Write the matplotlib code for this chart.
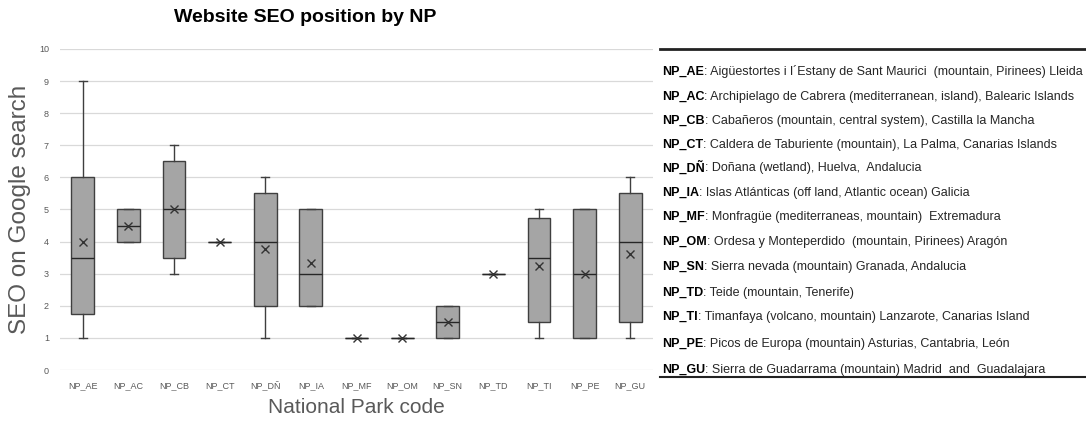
import matplotlib
matplotlib.use("Agg")
import matplotlib.pyplot as plt
from matplotlib.lines import Line2D

plt.rcParams['font.family'] = ['Liberation Sans', 'DejaVu Sans']

codes = ["NP_AE", "NP_AC", "NP_CB", "NP_CT", "NP_DÑ", "NP_IA", "NP_MF",
         "NP_OM", "NP_SN", "NP_TD", "NP_TI", "NP_PE", "NP_GU"]
whis_low = [1, 4, 3, 4, 1, 2, 1, 1, 1, 3, 1, 1, 1]
q1       = [1.75, 4, 3.5, 4, 2, 2, 1, 1, 1, 3, 1.5, 1, 1.5]
median   = [3.5, 4.5, 5, 4, 4, 3, 1, 1, 1.5, 3, 3.5, 3, 4]
q3       = [6, 5, 6.5, 4, 5.5, 5, 1, 1, 2, 3, 4.75, 5, 5.5]
whis_high = [9, 5, 7, 4, 6, 5, 1, 1, 2, 3, 5, 5, 6]
mean     = [4, 4.5, 5, 4, 3.78, 3.33, 1, 1, 1.5, 3, 3.25, 3, 3.6]

descriptions = [
    "Aigüestortes i l´Estany de Sant Maurici  (mountain, Pirinees) Lleida",
    "Archipielago de Cabrera (mediterranean, island), Balearic Islands",
    "Cabañeros (mountain, central system), Castilla la Mancha",
    "Caldera de Taburiente (mountain), La Palma, Canarias Islands",
    "Doñana (wetland), Huelva,  Andalucia",
    "Islas Atlánticas (off land, Atlantic ocean) Galicia",
    "Monfragüe (mediterraneas, mountain)  Extremadura",
    "Ordesa y Monteperdido  (mountain, Pirinees) Aragón",
    "Sierra nevada (mountain) Granada, Andalucia",
    "Teide (mountain, Tenerife)",
    "Timanfaya (volcano, mountain) Lanzarote, Canarias Island",
    "Picos de Europa (mountain) Asturias, Cantabria, León",
    "Sierra de Guadarrama (mountain) Madrid  and  Guadalajara",
]
desc_y_px = [72, 97, 121, 145, 168, 193, 217, 242, 267, 293, 317, 344, 370]

W, H = 1086, 422
fig = plt.figure(figsize=(W / 100, H / 100), dpi=100)
ax = fig.add_axes([60 / W, 1 - 370 / H, (653 - 60) / W, (370 - 49) / H])

stats = []
for i, c in enumerate(codes):
    stats.append(dict(label=c, whislo=whis_low[i], q1=q1[i], med=median[i],
                      q3=q3[i], whishi=whis_high[i], mean=mean[i], fliers=[]))

edge = "#3f3f3f"
ax.bxp(stats, positions=range(len(codes)), widths=0.5, patch_artist=True,
       showmeans=True, showfliers=False,
       boxprops=dict(facecolor="#a5a5a5", edgecolor=edge, linewidth=1.0),
       medianprops=dict(color="#262626", linewidth=1.0),
       whiskerprops=dict(color=edge, linewidth=1.0),
       capprops=dict(color=edge, linewidth=1.0),
       capwidths=0.18,
       meanprops=dict(marker="x", markeredgecolor="#333333", markersize=6,
                      markeredgewidth=1.0))

ax.set_xlim(-0.5, len(codes) - 0.5)
ax.set_ylim(0, 10)
ax.set_yticks(range(0, 11))
ax.grid(axis="y", color="#d9d9d9", linewidth=0.9)
ax.set_axisbelow(True)
for s in ax.spines.values():
    s.set_visible(False)
ax.tick_params(axis="both", length=0, labelsize=6.5, labelcolor="#595959")
ax.tick_params(axis="x", pad=8)
ax.tick_params(axis="y", pad=8)

ax.set_ylabel("SEO on Google search", fontsize=17.5, color="#595959", labelpad=6)
ax.set_xlabel("National Park code", fontsize=15, color="#595959", labelpad=5)
fig.text(305 / W, 1 - 18 / H, "Website SEO position by NP", fontsize=14,
         fontweight="bold", ha="center", va="center", color="black")

# right-hand table of descriptions
fig.add_artist(Line2D([660 / W, 1.0], [1 - 49 / H, 1 - 49 / H],
                      color="#222222", linewidth=2.0))
fig.add_artist(Line2D([660 / W, 1.0], [1 - 377 / H, 1 - 377 / H],
                      color="#222222", linewidth=1.5))
fs = 9.0
for c, d, y in zip(codes, descriptions, desc_y_px):
    t = fig.text(662 / W, 1 - y / H, c, fontsize=fs, fontweight="bold",
                 ha="left", va="center", color="black")
    fig.add_artist(plt.Annotation(": " + d, xy=(1, 0.5), xycoords=t,
                                  va="center", ha="left", fontsize=fs,
                                  color="#262626"))

fig.savefig("out.png", dpi=100)
